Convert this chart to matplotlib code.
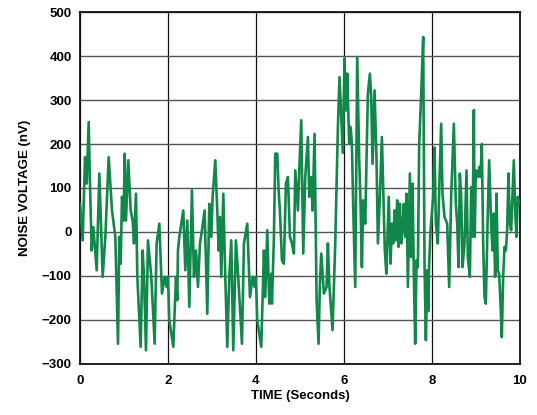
import matplotlib.pyplot as plt

# noise trace (seconds, nV)
time_s = [
    0.0, 0.061, 0.114, 0.152, 0.197, 0.227, 0.265, 0.303, 0.379, 0.439,
    0.515, 0.576, 0.652, 0.727, 0.803, 0.864, 0.894, 0.924, 0.955, 0.992,
    1.015, 1.045, 1.098, 1.152, 1.197, 1.227, 1.273, 1.303, 1.379, 1.424,
    1.455, 1.5, 1.545, 1.621, 1.697, 1.742, 1.803, 1.864, 1.924, 1.97,
    2.0, 2.03, 2.121, 2.182, 2.212, 2.227, 2.258, 2.348, 2.394, 2.439,
    2.485, 2.545, 2.591, 2.636, 2.682, 2.727, 2.773, 2.833, 2.894, 2.939,
    2.985, 3.015, 3.076, 3.121, 3.152, 3.182, 3.212, 3.258, 3.303, 3.348,
    3.394, 3.439, 3.485, 3.545, 3.606, 3.682, 3.727, 3.803, 3.864, 3.924,
    3.97, 4.0, 4.03, 4.121, 4.182, 4.212, 4.258, 4.303, 4.348, 4.364,
    4.409, 4.439, 4.485, 4.515, 4.545, 4.591, 4.636, 4.682, 4.727, 4.773,
    4.818, 4.864, 4.894, 4.955, 4.985, 5.03, 5.076, 5.121, 5.182, 5.212,
    5.258, 5.288, 5.333, 5.379, 5.424, 5.455, 5.485, 5.545, 5.606, 5.636,
    5.667, 5.742, 5.803, 5.864, 5.9, 5.94, 5.975, 6.015, 6.045, 6.076,
    6.121, 6.152, 6.182, 6.212, 6.258, 6.303, 6.348, 6.379, 6.409, 6.439,
    6.485, 6.545, 6.591, 6.621, 6.652, 6.697, 6.742, 6.773, 6.818, 6.864,
    6.93, 6.965, 7.02, 7.06, 7.091, 7.121, 7.152, 7.182, 7.212, 7.242,
    7.273, 7.303, 7.333, 7.364, 7.394, 7.424, 7.455, 7.5, 7.53, 7.561,
    7.591, 7.621, 7.652, 7.682, 7.712, 7.758, 7.803, 7.833, 7.864, 7.894,
    7.92, 7.939, 7.97, 8.03, 8.061, 8.091, 8.136, 8.167, 8.212, 8.242,
    8.288, 8.348, 8.394, 8.439, 8.5, 8.545, 8.576, 8.606, 8.636, 8.667,
    8.697, 8.742, 8.788, 8.818, 8.864, 8.894, 8.924, 8.955, 8.975, 9.0,
    9.045, 9.076, 9.106, 9.136, 9.167, 9.197, 9.227, 9.273, 9.303, 9.348,
    9.379, 9.409, 9.439, 9.47, 9.5, 9.53, 9.561, 9.591, 9.621, 9.652,
    9.682, 9.712, 9.742, 9.773, 9.803, 9.833, 9.864, 9.894, 9.924, 9.955,
    9.985,
]
noise_nv = [
    64, -19, 170, 110, 250, 110, -42, 11, -87, 133,
    -102, -11, 170, 49, -11, -254, -11, -72, 80, 26,
    178, 26, 163, 49, 26, -26, 87, -102, -261, -42,
    -102, -269, -19, -102, -254, -26, 19, -140, -102, -125,
    -102, -200, -261, -102, -155, -42, -11, 49, -87, 26,
    -170, 95, -102, -42, -125, -26, 4, 49, -186, 64,
    -11, 80, 163, 49, -42, 34, -102, 87, -102, -261,
    -102, -19, -269, -19, -117, -254, -26, 19, -148, -102,
    -125, -102, -200, -261, -42, -148, 4, -163, -95, -163,
    -11, 178, 178, 95, 49, -64, -72, 110, 125, -11,
    -26, -49, 140, 49, 140, 254, -49, 125, 216, 80,
    125, 49, 223, -155, -254, -117, -49, -140, -125, -26,
    -117, -223, -26, 239, 352, 260, 180, 395, 276, 360,
    200, 239, 200, 57, -125, 398, 163, 64, -80, 72,
    19, 314, 360, 307, 155, 322, 163, -26, 80, 216,
    -40, -95, 80, -72, 19, -26, 49, -19, 72, -34,
    64, -26, 11, 64, -11, 87, -125, 133, -57, 110,
    -102, -254, -64, -80, 200, 314, 443, -72, -246, -87,
    -180, -72, 4, 80, 192, 19, -26, 95, 246, 87,
    34, 19, -125, 80, 246, 64, 19, -80, 133, 80,
    -80, -26, 140, -57, -102, 102, -11, 277, -11, 140,
    125, 148, 125, 200, -26, -148, -163, 49, 163, 19,
    -42, 42, -102, 87, -87, -95, -163, -239, -102, -34,
    -42, 4, 133, 19, 4, 80, 163, 49, -11, 80,
    64,
]

x_ticks = [0, 2, 4, 6, 8, 10]
y_ticks = [-300, -200, -100, 0, 100, 200, 300, 400, 500]

plt.rcParams["font.family"] = ["Liberation Sans", "DejaVu Sans"]

fig = plt.figure(figsize=(5.37, 4.15), dpi=100)
ax = fig.add_axes([0.149, 0.123, 0.819, 0.848])

ax.plot(time_s, noise_nv, color="#12874a", linewidth=1.9, zorder=3)

ax.set_xlim(0, 10)
ax.set_ylim(-300, 500)
ax.set_xticks(x_ticks)
ax.set_yticks(y_ticks)
ax.xaxis.grid(True, color="#111111", linewidth=0.9)
ax.yaxis.grid(True, color="#555555", linewidth=1.0)
ax.tick_params(axis="x", length=0, labelsize=9.5, pad=8)
ax.tick_params(axis="y", length=0, labelsize=9.5, pad=6)
for lbl in ax.get_xticklabels() + ax.get_yticklabels():
    lbl.set_fontweight("bold")

for sp in ax.spines.values():
    sp.set_linewidth(1.3)
    sp.set_color("#111111")

ax.set_xlabel("TIME (Seconds)", fontsize=9.5, fontweight="bold", labelpad=2)
ax.set_ylabel("NOISE VOLTAGE (nV)", fontsize=9.5, fontweight="bold", labelpad=8)

fig.savefig("out.png", dpi=100)
